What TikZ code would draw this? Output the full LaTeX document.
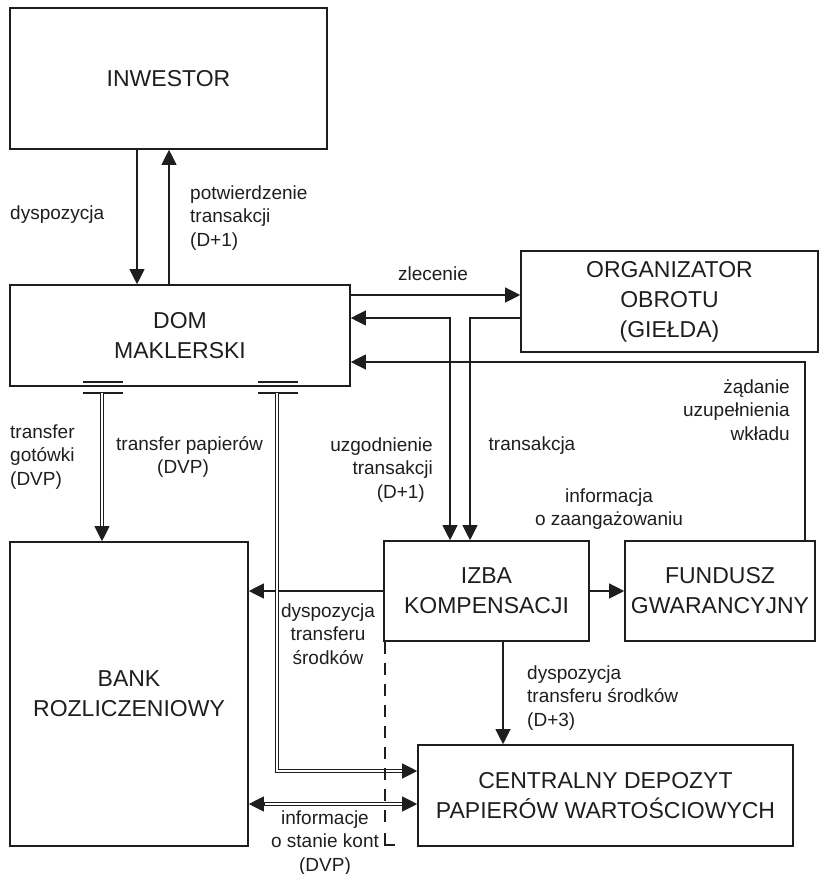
\documentclass[tikz,border=0pt]{standalone}
\usepackage{fontspec}
\setmainfont{Liberation Sans}
\usetikzlibrary{arrows.meta,calc}
\definecolor{ink}{RGB}{30,30,30}
\newcommand\dgBoxFont{\fontsize{23}{30}\selectfont}
\newcommand\dgLblFont{\fontsize{19}{23.5}\selectfont}
\begin{document}
\begin{tikzpicture}[x=1pt,y=-1pt,
  box/.style={draw=ink, line width=1.6pt, align=center, font=\dgBoxFont, text=ink, inner sep=0pt},
  lbl/.style={font=\dgLblFont, inner sep=0pt, text=ink},
  tip/.style={-{Triangle[length=15pt,width=15pt]}},
  btip/.style={{Triangle[length=15pt,width=15pt]}-{Triangle[length=15pt,width=15pt]}},
  arr/.style={draw=ink, line width=1.1pt, tip},
  dbl/.style={draw=ink, line width=0.8pt, double=white, double distance=2.2pt},
  bar/.style={draw=ink, line width=1.1pt},
  dsh/.style={draw=ink, line width=1.1pt, dash pattern=on 12pt off 9pt}
]
\useasboundingbox (0,0) rectangle (822,874);

% boxes
\node[box, minimum width=317pt, minimum height=141pt] (inw) at (168.5,78.5) {INWESTOR};
\node[box, minimum width=340pt, minimum height=101pt] (dom) at (180,335.5) {DOM\\MAKLERSKI};
\node[box, minimum width=297pt, minimum height=101pt] (org) at (669.5,301.5) {ORGANIZATOR\\OBROTU\\(GIEŁDA)};
\node[box, minimum width=238pt, minimum height=304pt] (bank) at (129,694) {BANK\\ROZLICZENIOWY};
\node[box, minimum width=205pt, minimum height=100pt] (izba) at (486.5,591) {IZBA\\KOMPENSACJI};
\node[box, minimum width=190pt, minimum height=100pt] (fund) at (720,591) {FUNDUSZ\\GWARANCYJNY};
\node[box, minimum width=375pt, minimum height=101pt] (cdpw) at (605.5,795.5) {CENTRALNY DEPOZYT\\PAPIERÓW WARTOŚCIOWYCH};

% helper coordinates
\coordinate (gt) at (102,393);
\coordinate (pp) at (277,393);
\coordinate (ppc) at (277,771);
\coordinate (ik) at (0,804);
\coordinate (uz) at (450,318);
\coordinate (tr) at (470,318);
\coordinate (zd) at (805,362);
\coordinate (dm) at (385,830);
\coordinate (dn) at (385,833);
\coordinate (dc) at (385,845);
\coordinate (de) at (395,845);
\coordinate (gtE) at (gt |- bank.north);
\coordinate (ppE) at (cdpw.west |- ppc);
\coordinate (ikA) at (bank.east |- ik);
\coordinate (ikB) at (cdpw.west |- ik);

% INWESTOR <-> DOM
\draw[arr] (137,0 |- inw.south) -- (137,0 |- dom.north);
\draw[arr] (169,0 |- dom.north) -- (169,0 |- inw.south);

% DOM -> ORG
\draw[arr] (dom.east |- 0,295) -- (org.west |- 0,295);
% uzgodnienie
\draw[draw=ink, line width=1.1pt, btip] (dom.east |- uz) -- (uz) -- (uz |- izba.north);
% transakcja
\draw[arr] (org.west |- tr) -- (tr) -- (tr |- izba.north);
% zadanie
\draw[arr] (zd |- fund.north) -- (zd) -- (dom.east |- zd);
% IZBA -> FUND
\draw[arr] (izba.east) -- (fund.west);
% IZBA -> BANK
\draw[arr] (izba.west) -- (izba.west -| bank.east);
% IZBA -> CDPW
\draw[arr] (503,0 |- izba.south) -- (503,0 |- cdpw.north);

% double lines
\draw[bar] (83,382) -- (123,382);
\draw[bar] (83,393) -- (123,393);
\draw[bar] (258,382) -- (298,382);
\draw[bar] (258,393) -- (298,393);
\draw[dbl, shorten >=12pt] (gt) -- (gtE);
\draw[arr] ($(gtE)+(0,-15)$) -- (gtE);
\draw[dbl, shorten >=12pt] (pp) -- (ppc) -- (ppE);
\draw[arr] ($(ppE)+(-15,0)$) -- (ppE);
\draw[dbl, shorten >=12pt, shorten <=12pt] (ikA) -- (ikB);
\draw[arr] ($(ikA)+(15,0)$) -- (ikA);
\draw[arr] ($(ikB)+(-15,0)$) -- (ikB);

% dashed boundary
\draw[dsh] (dc |- izba.south) -- (dm);
\draw[draw=ink, line width=1.1pt] (dn) -- (dc) -- (de);

% labels
\node[lbl, anchor=west] (l1) at (10,215) {dyspozycja};
\node[lbl, anchor=west, align=left] (l2) at (190,218) {potwierdzenie\\transakcji\\(D+1)};
\node[lbl] (l3) at (433,274) {zlecenie};
\node[lbl, anchor=east, align=right] (l4) at (790,410) {żądanie\\uzupełnienia\\wkładu};
\node[lbl, anchor=west, align=left] (l5) at (10,457) {transfer\\gotówki\\(DVP)};
\node[lbl, anchor=west, align=left] (l6) at (116,457) {transfer papierów\\\hspace*{41pt}(DVP)};
\node[lbl, anchor=east, align=right] (l7) at (433,470) {uzgodnienie\\transakcji\\(D+1)\hspace*{8pt}};
\node[lbl] (l8) at (532,446) {transakcja};
\node[lbl, align=center] (l9) at (609,509) {informacja\\o zaangażowaniu};
\node[lbl, align=center] (l10) at (328,634) {dyspozycja\\transferu\\środków};
\node[lbl, anchor=west, align=left] (l11) at (527,698) {dyspozycja\\transferu środków\\(D+3)};
\node[lbl, align=center] (l12) at (325,843) {informacje\\o stanie kont\\(DVP)};
\end{tikzpicture}
\end{document}
